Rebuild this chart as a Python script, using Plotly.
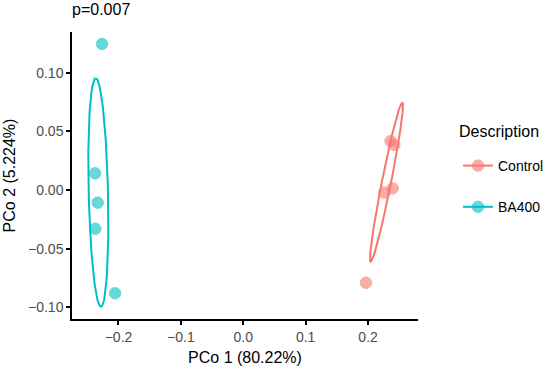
import numpy as np
import plotly.graph_objects as go

# Data
groups = ["Control", "BA400"]
colors = {"Control": "#F8766D", "BA400": "#00BFC4"}
control_x = [0.1966, 0.2260, 0.2394, 0.2360, 0.2420]
control_y = [-0.0790, -0.0023, 0.0014, 0.0417, 0.0383]
ba400_x = [-0.2264, -0.2376, -0.2333, -0.2372, -0.2056]
ba400_y = [0.1244, 0.0142, -0.0108, -0.0330, -0.0880]

# 95% ellipse parameters:
# centre, semi-axis vector to the topmost point, and horizontal half-chord through centre
control_ellipse_center = [0.2295, 0.0068]
control_ellipse_major = [0.0253, 0.0679]
control_ellipse_halfwidth = 0.0075
ba400_ellipse_center = [-0.2323, -0.0021]
ba400_ellipse_major = [-0.0042, 0.0973]
ba400_ellipse_halfwidth = 0.0155

x_ticks = [-0.2, -0.1, 0.0, 0.1, 0.2]
x_labels = ["\u22120.2", "\u22120.1", "0.0", "0.1", "0.2"]
y_ticks = [-0.10, -0.05, 0.00, 0.05, 0.10]
y_labels = ["\u22120.10", "\u22120.05", "0.00", "0.05", "0.10"]


def ellipse(center, major, halfwidth, segments=100):
    t = np.linspace(0, 2 * np.pi, segments + 1)
    ex = center[0] + np.cos(t) * major[0] + np.sin(t) * halfwidth
    ey = center[1] + np.cos(t) * major[1]
    return ex, ey


fig = go.Figure()
series = {
    "Control": (control_x, control_y, control_ellipse_center, control_ellipse_major, control_ellipse_halfwidth),
    "BA400": (ba400_x, ba400_y, ba400_ellipse_center, ba400_ellipse_major, ba400_ellipse_halfwidth),
}
marker_style = lambda g: dict(color=colors[g], size=11.5, opacity=0.6, line=dict(color=colors[g], width=1))
for g in groups:
    xs, ys, c, a, b = series[g]
    ex, ey = ellipse(c, a, b)
    fig.add_trace(go.Scatter(x=ex, y=ey, mode="lines", line=dict(color=colors[g], width=2),
                             showlegend=False, hoverinfo="skip"))
    fig.add_trace(go.Scatter(x=xs, y=ys, mode="markers", showlegend=False, marker=marker_style(g)))
for g in groups:
    fig.add_trace(go.Scatter(x=[None], y=[None], mode="lines+markers", name=g, legendgroup=g,
                             line=dict(color=colors[g], width=2), marker=marker_style(g)))

axis_common = dict(showline=True, linecolor="black", linewidth=1.5, ticks="outside",
                   ticklen=4, tickwidth=1.5, tickcolor="black", showgrid=False, zeroline=False,
                   tickfont=dict(size=14, color="#4D4D4D"), automargin=False)
fig.update_xaxes(range=[-0.2745, 0.28], tickvals=x_ticks, ticktext=x_labels,
                 title=dict(text="PCo 1 (80.22%)", font=dict(size=16, color="black"), standoff=8),
                 **axis_common)
fig.update_yaxes(range=[-0.1099, 0.1346], tickvals=y_ticks, ticktext=y_labels,
                 title=dict(text="PCo 2 (5.224%)", font=dict(size=16, color="black"), standoff=8),
                 **axis_common)

fig.update_layout(
    width=550, height=370,
    margin=dict(l=72, r=132, t=32, b=51),
    plot_bgcolor="white", paper_bgcolor="white",
    font=dict(family="Liberation Sans, Arial, sans-serif", color="black"),
    title=dict(text="p=0.007", x=72 / 550, xanchor="left", y=1 - 9 / 370, yanchor="middle",
               font=dict(size=16, color="black"), pad=dict(l=0, r=0, t=0, b=0)),
    legend=dict(font=dict(size=14), xref="container", yref="container",
                x=458 / 550, y=1 - 150 / 370, xanchor="left", yanchor="top",
                tracegroupgap=20, bgcolor="rgba(0,0,0,0)"),
    annotations=[dict(text="Description", xref="paper", yref="paper",
                      x=(457 - 72) / 346, y=1 - (131.7 - 32) / 287, xanchor="left", yanchor="middle",
                      showarrow=False, font=dict(size=16, color="black"))],
)

fig.write_html("out.html", config={"displayModeBar": False},
               post_script="document.body.style.margin='0px';")
